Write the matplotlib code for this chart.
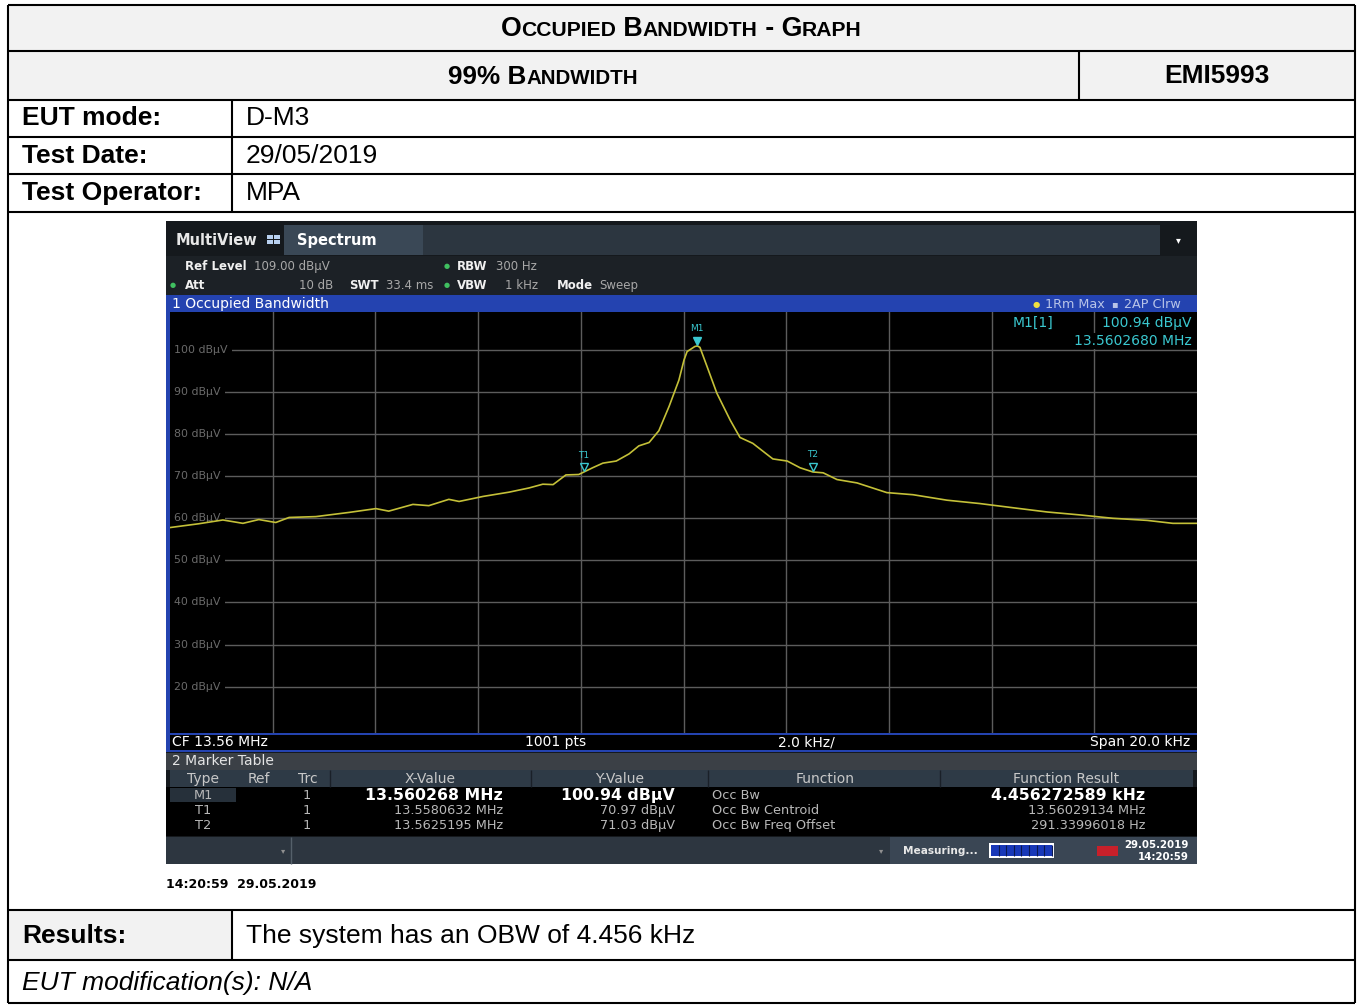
import matplotlib
matplotlib.use("Agg")
import matplotlib.pyplot as plt
from matplotlib.patches import Rectangle
from matplotlib.transforms import offset_copy

plt.rcParams['font.family'] = ['Liberation Sans', 'DejaVu Sans']

# trace: offset from CF in kHz, level in dBuV
freq_khz = [-10.0, -9.44, -8.97, -8.58, -8.27, -7.94, -7.68, -7.16, -6.51, -5.99,
            -5.74, -5.27, -4.96, -4.57, -4.37, -3.90, -3.40, -3.01, -2.74, -2.54,
            -2.29, -2.04, -1.77, -1.57, -1.31, -1.06, -0.87, -0.67, -0.48, -0.28,
            -0.09, 0.01, 0.07, 0.22, 0.27, 0.32, 0.46, 0.65, 0.91, 1.10,
            1.35, 1.74, 2.02, 2.27, 2.52, 2.72, 2.99, 3.38, 3.96, 4.47,
            5.13, 5.77, 6.42, 7.08, 7.72, 8.36, 9.03, 9.53, 10.0]
level_dbuv = [57.8, 58.7, 59.6, 58.8, 59.7, 59.0, 60.2, 60.4, 61.4, 62.3,
              61.7, 63.3, 63.0, 64.5, 64.0, 65.2, 66.2, 67.2, 68.1, 68.0,
              70.3, 70.4, 72.0, 73.1, 73.6, 75.3, 77.2, 78.0, 80.8, 86.6,
              92.8, 97.6, 99.6, 100.8, 100.94, 100.6, 96.0, 89.7, 83.3, 79.2,
              77.8, 74.1, 73.6, 72.0, 71.0, 70.8, 69.2, 68.4, 66.1, 65.6,
              64.3, 63.5, 62.5, 61.5, 60.8, 60.0, 59.5, 58.8, 58.8]

cf_mhz = 13.56
marker_names = ["M1", "T1", "T2"]
marker_freq_mhz = [13.560268, 13.5580632, 13.5625195]
marker_level = [100.94, 70.97, 71.03]
ref_level = 109.0
grid_levels = [100, 90, 80, 70, 60, 50, 40, 30, 20]

info_labels = ["EUT mode:", "Test Date:", "Test Operator:"]
info_values = ["D-M3", "29/05/2019", "MPA"]
mk_x_text = ["13.560268 MHz", "13.5580632 MHz", "13.5625195 MHz"]
mk_y_text = ["100.94 dB\u03bcV", "70.97 dB\u03bcV", "71.03 dB\u03bcV"]
func_names = ["Occ Bw", "Occ Bw Centroid", "Occ Bw Freq Offset"]
func_results = ["4.456272589 kHz", "13.56029134 MHz", "291.33996018 Hz"]

fig = plt.figure(figsize=(13.6, 10.05), dpi=100)
bg = fig.add_axes([0, 0, 1, 1])
bg.set_xlim(0, 1360)
bg.set_ylim(1005, 0)
bg.axis('off')


def box(a, x0, y0, x1, y1, fc, z=1):
    a.add_patch(Rectangle((x0, y0), x1 - x0, y1 - y0, facecolor=fc,
                          edgecolor='none', zorder=z))


def line(a, x0, y0, x1, y1, c='black', lw=1.5, z=5):
    a.plot([x0, x1], [y0, y1], color=c, lw=lw, solid_capstyle='butt', zorder=z)


def smallcaps(a, xc, yb, s, big, small, **kw):
    r = fig.canvas.get_renderer()
    runs = []
    for ch in s:
        sz, c = (small, ch.upper()) if ch.islower() else (big, ch)
        if runs and runs[-1][1] == sz:
            runs[-1][0] += c
        else:
            runs.append([c, sz])
    objs = [a.text(0, yb, t, fontsize=sz, va='baseline', ha='left', **kw) for t, sz in runs]
    widths = [o.get_window_extent(r).width for o in objs]
    x = xc - sum(widths) / 2
    for o, w in zip(objs, widths):
        o.set_x(x)
        x += w


# ---- report table
L, R, T, B = 8, 1355, 5, 1003
box(bg, L, T, R, 100, '#f2f2f2')
box(bg, L, 910, 232, 960, '#f2f2f2')
for y in [T, 51, 100, 137, 174, 212, 910, 960, B]:
    line(bg, L, y, R, y)
line(bg, L, T, L, B)
line(bg, R, T, R, B)
line(bg, 1079, 51, 1079, 100)
line(bg, 232, 100, 232, 212)
line(bg, 232, 910, 232, 960)

fs = 19
smallcaps(bg, 681, 36, "Occupied Bandwidth - Graph", 19.3, 15.2, fontweight='bold')
smallcaps(bg, 543, 84, "99% Bandwidth", 18.8, 14.8, fontweight='bold')
bg.text(1217, 76, "EMI5993", fontsize=fs, fontweight='bold', ha='center', va='center')
for i, (lab, val) in enumerate(zip(info_labels, info_values)):
    yc = [118, 156, 193][i]
    bg.text(22, yc, lab, fontsize=fs, fontweight='bold', va='center')
    bg.text(246, yc, val, fontsize=fs, va='center')
bg.text(22, 936, "Results:", fontsize=fs, fontweight='bold', va='center')
bg.text(246, 936, "The system has an OBW of %.3f kHz" % (float(func_results[0].split()[0])),
        fontsize=fs, va='center')
bg.text(22, 983, "EUT modification(s): N/A", fontsize=fs, style='italic', va='center')
bg.text(166, 884, "14:20:59  29.05.2019", fontsize=9, fontweight='bold',
        family='DejaVu Sans', va='center')

# ---- analyser screen chrome
sf = 'DejaVu Sans'
box(bg, 166, 221, 1197, 864, '#15191d')
box(bg, 284, 225, 423, 255, '#3a4856')
box(bg, 423, 225, 1160, 255, '#2c3640')
bg.text(176, 240, "MultiView", fontsize=10.5, fontweight='bold', color='#e8e8e8', family=sf, va='center')
for dx, dy in [(0, 0), (7, 0), (0, 5), (7, 5)]:
    box(bg, 267 + dx, 235 + dy, 273 + dx, 239 + dy, '#b8d0f0', z=2)
bg.text(297, 240, "Spectrum", fontsize=10.5, fontweight='bold', color='white', family=sf, va='center')
bg.text(1178, 240, "\u25be", fontsize=7, color='white', family=sf, ha='center', va='center')

box(bg, 166, 256, 1197, 295, '#1c2126')
green = '#40c060'
txt_kw = dict(fontsize=8.5, family=sf, va='center')
bar_kw = dict(fontsize=10, family=sf, va='center')
bg.text(185, 266, "Ref Level", color='#f0f0f0', fontweight='bold', **txt_kw)
bg.text(254, 266, "%.2f dB\u03bcV" % ref_level, color='#a8a8a8', **txt_kw)
bg.text(444, 266, "\u25cf", color=green, fontsize=5, family=sf, va='center')
bg.text(457, 266, "RBW", color='#f0f0f0', fontweight='bold', **txt_kw)
bg.text(496, 266, "300 Hz", color='#a8a8a8', **txt_kw)
bg.text(170, 285, "\u25cf", color=green, fontsize=5, family=sf, va='center')
bg.text(185, 285, "Att", color='#f0f0f0', fontweight='bold', **txt_kw)
bg.text(333, 285, "10 dB", color='#a8a8a8', ha='right', **txt_kw)
bg.text(349, 285, "SWT", color='#f0f0f0', fontweight='bold', **txt_kw)
bg.text(386, 285, "33.4 ms", color='#a8a8a8', **txt_kw)
bg.text(444, 285, "\u25cf", color=green, fontsize=5, family=sf, va='center')
bg.text(457, 285, "VBW", color='#f0f0f0', fontweight='bold', **txt_kw)
bg.text(505, 285, "1 kHz", color='#a8a8a8', **txt_kw)
bg.text(557, 285, "Mode", color='#f0f0f0', fontweight='bold', **txt_kw)
bg.text(599, 285, "Sweep", color='#a8a8a8', **txt_kw)

blue = '#2443b0'
box(bg, 166, 295, 1197, 752, blue)
bg.text(172, 304, "1 Occupied Bandwidth", color='white', **bar_kw)
leg_kw = dict(fontsize=9.2, family=sf, va='center', color='#b8c4e8')
bg.text(1033, 304, "\u25cf", color='#f0e040', fontsize=6, family=sf, va='center')
bg.text(1045, 304, "1Rm Max", **leg_kw)
bg.text(1111, 304, "\u25aa", color='#b8c4e8', fontsize=7, family=sf, va='center')
bg.text(1181, 304, "2AP Clrw", ha='right', **leg_kw)

box(bg, 170, 735, 1197, 750, 'black', z=2)
bg.text(172, 742, "CF %.2f MHz" % cf_mhz, color='white', zorder=3, **bar_kw)
bg.text(525, 742, "1001 pts", color='white', zorder=3, **bar_kw)
bg.text(778, 742, "2.0 kHz/", color='white', zorder=3, **bar_kw)
bg.text(1190, 742, "Span 20.0 kHz", color='white', ha='right', zorder=3, **bar_kw)

# marker table
box(bg, 166, 753, 1197, 770, '#3b4046')
bg.text(172, 761, "2 Marker Table", color='#e4e4e4', **bar_kw)
box(bg, 170, 770, 1193, 787, '#2e3a46')
for xs in [330, 531, 708, 940]:
    line(bg, xs, 770, xs, 787, c='#1a2028', lw=1)
hdr = [("Type", 203), ("Ref", 259), ("Trc", 308), ("X-Value", 430), ("Y-Value", 620),
       ("Function", 825), ("Function Result", 1066)]
for h, xh in hdr:
    bg.text(xh, 779, h, color='#c8c8c8', ha='center', **bar_kw)
box(bg, 166, 787, 1197, 836, 'black')
box(bg, 170, 788, 236, 802, '#26303a', z=2)
row_kw = dict(color='#b8b8b8', fontsize=9.3, family=sf, va='center', zorder=3)
for i, name in enumerate(marker_names):
    yr = [795, 810, 825][i]
    if i == 0:
        kw = dict(fontsize=11.3, fontweight='bold', color='white', family=sf, va='center', zorder=3)
    else:
        kw = row_kw
    bg.text(203, yr, name, ha='center', **row_kw)
    bg.text(307, yr, "1", ha='center', **row_kw)
    bg.text(503, yr, mk_x_text[i], ha='right', **kw)
    bg.text(675, yr, mk_y_text[i], ha='right', **kw)
    bg.text(712, yr, func_names[i], ha='left', **row_kw)
    bg.text(1145, yr, func_results[i], ha='right', **kw)

# status bar
box(bg, 166, 837, 1197, 864, '#2d3640')
box(bg, 890, 837, 1197, 864, '#3a4654', z=2)
line(bg, 291, 837, 291, 864, c='#55606a', lw=1)
bg.text(283, 851, "\u25be", color='#909090', fontsize=6, family=sf, ha='center', va='center')
bg.text(881, 851, "\u25be", color='#909090', fontsize=6, family=sf, ha='center', va='center')
bg.text(903, 851, "Measuring...", color='#e8e8e8', fontsize=7.6, family=sf, fontweight='bold', va='center', zorder=3)
box(bg, 989, 843, 1054, 858, 'white', z=3)
box(bg, 991, 845, 1052, 856, '#1838b8', z=4)
for k in range(1, 9):
    line(bg, 991 + k * 7.6, 845, 991 + k * 7.6, 856, c='#0a1850', lw=0.8, z=6)
box(bg, 1097, 846, 1118, 856, '#c8202a', z=3)
bg.text(1189, 845, "29.05.2019", color='white', fontsize=7.4, fontweight='bold', family=sf, ha='right', va='center', zorder=3)
bg.text(1189, 857, "14:20:59", color='white', fontsize=7.4, fontweight='bold', family=sf, ha='right', va='center', zorder=3)

# ---- spectrum plot
ax = fig.add_axes([170 / 1360, 1 - 733 / 1005, 1027 / 1360, 421 / 1005])
ax.set_facecolor('black')
ax.set_xlim(-10, 10)
ax.set_ylim(ref_level - 100, ref_level)
ax.set_xticks([])
ax.set_yticks([])
for s in ax.spines.values():
    s.set_visible(False)
gc = '#5c5c5c'
for xv in range(-8, 9, 2):
    ax.axvline(xv, color=gc, lw=1, zorder=1)
for lv in grid_levels:
    ax.axhline(lv, color=gc, lw=1, zorder=1)
    ax.text(-9.92, lv, "%d dB\u03bcV" % lv, color='#6a6a6a', fontsize=7.9, family=sf, va='center',
            zorder=2, bbox=dict(facecolor='black', edgecolor='none', pad=3))
ax.plot(freq_khz, level_dbuv, color='#c4c038', lw=1.2, zorder=3)

cyan = '#3ac8d0'
mk_tr = offset_copy(ax.transData, fig=fig, x=0, y=5, units='dots')
lb_tr = offset_copy(ax.transData, fig=fig, x=0, y=17, units='dots')
for i, name in enumerate(marker_names):
    fx = (marker_freq_mhz[i] - cf_mhz) * 1000
    ax.plot([fx], [marker_level[i]], marker='v', ms=6, color=cyan,
            mfc=cyan if i == 0 else 'none', mew=1, transform=mk_tr, zorder=4)
    ax.text(fx, marker_level[i], name, color=cyan, fontsize=6.5, family=sf,
            ha='center', va='center', transform=lb_tr, zorder=4)

top = fig.add_axes([0, 0, 1, 1], facecolor='none')
top.set_xlim(0, 1360)
top.set_ylim(1005, 0)
top.axis('off')
top.text(1013, 323, "M1[1]", color=cyan, **bar_kw)
top.text(1192, 323, mk_y_text[0], color=cyan, ha='right',
         bbox=dict(facecolor='black', edgecolor='none', pad=1), **bar_kw)
top.text(1192, 341, "%.7f MHz" % marker_freq_mhz[0], color=cyan, ha='right',
         bbox=dict(facecolor='black', edgecolor='none', pad=1), **bar_kw)

fig.savefig("out.png", dpi=100)
